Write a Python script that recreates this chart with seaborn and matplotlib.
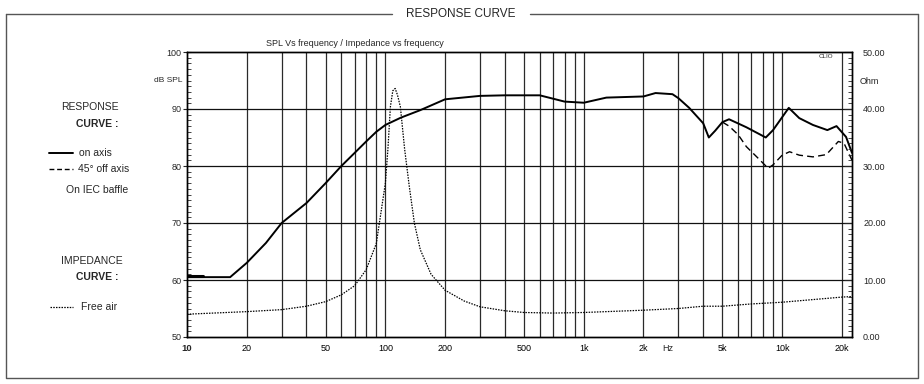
import numpy as np
import pandas as pd
import matplotlib
matplotlib.use("Agg")
import matplotlib.pyplot as plt
from matplotlib.lines import Line2D
from matplotlib.ticker import FixedLocator, MultipleLocator, NullFormatter, FixedFormatter
import seaborn as sns

# ---------------- data ----------------
freq_on = [10, 12, 16.5, 20, 25, 30, 40, 50, 60, 70, 80, 90, 100, 120, 150, 200, 300,
           400, 600, 800, 1000, 1300, 2000, 2300, 2800, 3000, 3400, 4000, 4270, 4600,
           5000, 5400, 6600, 8270, 9000, 10800, 12200, 14300, 16900, 18800, 21000, 22500]
spl_on = [60.5, 60.5, 60.5, 63, 66.5, 70, 73.5, 77, 80, 82.3, 84.3, 86, 87.2, 88.5, 89.8, 91.7, 92.3,
          92.4, 92.4, 91.3, 91.1, 92.0, 92.2, 92.8, 92.6, 91.9, 90.2, 87.5, 85.0, 86.2,
          87.7, 88.2, 86.8, 85.0, 86.3, 90.2, 88.4, 87.2, 86.3, 87.0, 85.1, 82.3]

freq_off = [5000, 5400, 6000, 6600, 7500, 8500, 9000, 10000, 10900, 12200, 14300, 16700,
            19200, 20500, 22500]
spl_off = [87.7, 87.0, 85.5, 83.4, 81.5, 79.6, 80.2, 81.9, 82.5, 81.9, 81.6, 82.0,
           84.3, 84.0, 81.0]

freq_imp = [10, 20, 30, 40, 50, 60, 70, 80, 90, 100, 103, 106, 109, 112, 115, 119, 125,
            132, 140, 150, 170, 200, 250, 300, 400, 500, 700, 1000, 2000, 3000, 4000,
            5000, 7000, 10000, 20000, 22500]
imp_free = [4.0, 4.45, 4.8, 5.4, 6.2, 7.4, 9.0, 11.8, 16.4, 27, 33, 40.4, 43.2, 43.6, 42.5,
            40.4, 33, 26.4, 20, 15.3, 11, 8.2, 6.3, 5.3, 4.6, 4.3, 4.2, 4.3, 4.7, 5.0, 5.4,
            5.4, 5.8, 6.1, 7.0, 7.1]

xtick_vals = [10, 20, 50, 100, 200, 500, 1000, 2000, 5000, 10000, 20000]
xtick_labels = ["10", "20", "50", "100", "200", "500", "1k", "2k", "5k", "10k", "20k"]
ytick_left = [50, 60, 70, 80, 90, 100]
ytick_right = [0, 10, 20, 30, 40, 50]

# ---------------- style ----------------
sns.set_style("white")
plt.rcParams["font.family"] = ["Liberation Sans", "DejaVu Sans"]

W, H = 924, 384
fig = plt.figure(figsize=(W / 100, H / 100), dpi=100)
L, R, T, B = 187, 852, 52, 337
ax = fig.add_axes([L / W, 1 - B / H, (R - L) / W, (B - T) / H])

df_on = pd.DataFrame({"f": freq_on, "spl": spl_on})
df_off = pd.DataFrame({"f": freq_off, "spl": spl_off})
df_imp = pd.DataFrame({"f": freq_imp, "z": imp_free})

ax.set_xscale("log")

# grid
grid_x = list(range(20, 100, 10)) + list(range(100, 1000, 100)) + list(range(1000, 10000, 1000)) + [10000, 20000]
for gx in grid_x:
    ax.axvline(gx, color="#2a2a2a", lw=0.9, zorder=1)
for gy in [60, 70, 80, 90]:
    ax.axhline(gy, color="#111111", lw=0.9, zorder=1)

sns.lineplot(data=df_on, x="f", y="spl", ax=ax, color="black", lw=1.4,
             estimator=None, sort=False, zorder=4)
sns.lineplot(data=df_off, x="f", y="spl", ax=ax, color="black", lw=1.0,
             estimator=None, sort=False, zorder=4, linestyle=(0, (5, 3)))
ax.plot([10, 12], [60.65, 60.65], color="black", lw=2.2, zorder=5)

ax2 = ax.twinx()
sns.lineplot(data=df_imp, x="f", y="z", ax=ax2, color="black", lw=0.9,
             estimator=None, sort=False, zorder=4, linestyle=(0, (1.2, 1.0)))
ax2.set_ylim(0, 50)
ax.set_ylim(50, 100)
ax.set_xlim(10, 22500)

for a in (ax, ax2):
    a.set_xlabel("")
    a.set_ylabel("")
    for s in a.spines.values():
        s.set_color("black")
        s.set_linewidth(1.0)

# x ticks ("10" drawn separately in bold)
ax.xaxis.set_major_locator(FixedLocator(xtick_vals))
ax.xaxis.set_major_formatter(FixedFormatter([""] + xtick_labels[1:]))
ax.xaxis.set_minor_locator(FixedLocator([]))
ax.xaxis.set_minor_formatter(NullFormatter())
ax.tick_params(axis="x", which="both", length=0, pad=5, labelsize=6.5, colors="black")
ax2.tick_params(axis="x", which="both", length=0)
ax.text(xtick_vals[0], -0.0246, xtick_labels[0], transform=ax.get_xaxis_transform(),
        ha="center", va="top", fontsize=6.8, fontweight="bold")

# left y ticks
ax.set_yticks(ytick_left)
ax.yaxis.set_minor_locator(MultipleLocator(1))
ax.tick_params(axis="y", which="major", direction="inout", length=6, width=0.8,
               labelsize=6.5, pad=1)
ax.tick_params(axis="y", which="minor", direction="in", length=3, width=0.6)

# right y ticks
ax2.set_yticks(ytick_right)
ax2.set_yticklabels([f"{v:.2f}" for v in ytick_right])
ax2.yaxis.set_minor_locator(MultipleLocator(1))
ax2.tick_params(axis="y", which="major", direction="in", length=6, width=0.8,
                labelsize=6.5, pad=8)
ax2.tick_params(axis="y", which="minor", direction="in", length=3, width=0.6)

# annotations
ax.text(2650, -0.0246, "Hz", transform=ax.get_xaxis_transform(), ha="center", va="top", fontsize=6.5)
fig.text(355 / W, 1 - 43 / H, "SPL Vs frequency / Impedance vs frequency", ha="center", va="center", fontsize=6.5)
fig.text(183 / W, 1 - 81 / H, "dB SPL", ha="right", va="center", fontsize=6)
fig.text(860 / W, 1 - 81 / H, "Ohm", ha="left", va="center", fontsize=6.5)
fig.text(826 / W, 1 - 57 / H, "CLIO", ha="center", va="center", fontsize=4.5)

# left legend block
fs = 7.5
fig.text(90 / W, 1 - 107 / H, "RESPONSE", ha="center", va="center", fontsize=fs)
fig.text(97 / W, 1 - 124 / H, "CURVE :", ha="center", va="center", fontsize=fs, fontweight="bold")
fig.add_artist(Line2D([49 / W, 73 / W], [1 - 153 / H] * 2, color="black", lw=1.4))
fig.text(79 / W, 1 - 153 / H, "on axis", ha="left", va="center", fontsize=fs)
fig.add_artist(Line2D([49 / W, 73 / W], [1 - 169 / H] * 2, color="black", lw=1.0, linestyle=(0, (3.5, 2))))
fig.text(78 / W, 1 - 169 / H, "45° off axis", ha="left", va="center", fontsize=fs)
fig.text(97 / W, 1 - 190 / H, "On IEC baffle", ha="center", va="center", fontsize=fs)
fig.text(92 / W, 1 - 261 / H, "IMPEDANCE", ha="center", va="center", fontsize=fs)
fig.text(97 / W, 1 - 277 / H, "CURVE :", ha="center", va="center", fontsize=fs, fontweight="bold")
fig.add_artist(Line2D([50 / W, 73 / W], [1 - 307 / H] * 2, color="black", lw=0.9, linestyle=(0, (1.2, 1.0))))
fig.text(81 / W, 1 - 307 / H, "Free air", ha="left", va="center", fontsize=fs)

# outer frame with title
fc = "#555555"
x0, x1, y0, y1 = 6 / W, 918 / W, 1 - 14 / H, 1 - 378 / H
fig.add_artist(Line2D([x0, x0, x1, x1], [y0, y1, y1, y0], color=fc, lw=1.0))
fig.add_artist(Line2D([x0, 392 / W], [y0, y0], color=fc, lw=1.0))
fig.add_artist(Line2D([530 / W, x1], [y0, y0], color=fc, lw=1.0))
fig.text(461 / W, y0, "RESPONSE CURVE", ha="center", va="center", fontsize=8.5)

fig.savefig("out.png", dpi=100)
